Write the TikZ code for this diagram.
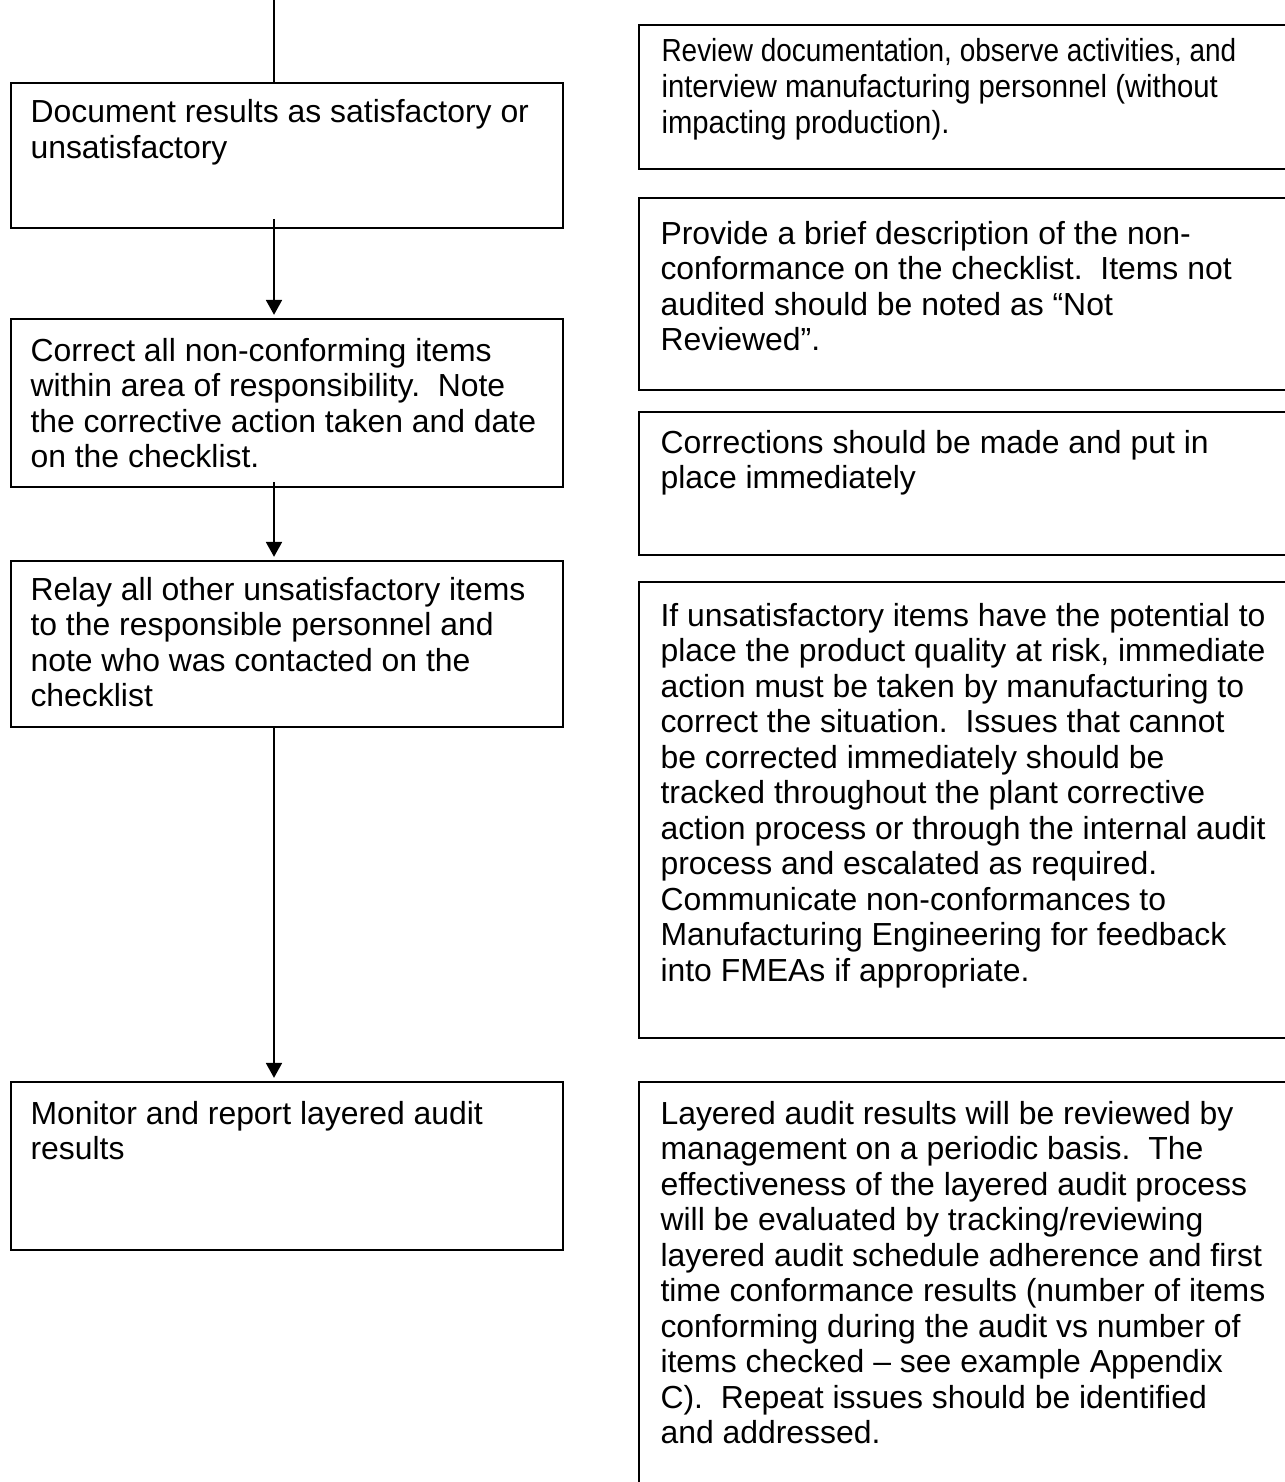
\documentclass[tikz,border=0pt]{standalone}
\usepackage{fontspec}
\usepackage{graphicx}
\setmainfont{Liberation Sans}
\newfontfamily\narrowsans[FakeStretch=0.917]{Liberation Sans}
\usetikzlibrary{arrows.meta}
\newlength\pxu
\setlength\pxu{0.376pt}
\begin{document}
\begin{tikzpicture}[x=\pxu, y=-\pxu,
  box/.style={draw, line width=0.75pt, inner sep=0pt, anchor=north west},
  lbox/.style={box, minimum width=552\pxu},
  rbox/.style={box, minimum width=720\pxu},
  txt/.style={inner sep=0pt, anchor=base west, font=\fontsize{12}{13.35}\selectfont},
  narrowtxt/.style={txt, font=\narrowsans\fontsize{12}{13.35}\selectfont},
  conn/.style={line width=0.75pt},
  arr/.style={conn, -{Triangle[width=6pt,length=5.6pt]}, shorten >=1.2pt}]
\useasboundingbox (0,0) rectangle (1285,1482);
\clip (0,0) rectangle (1285,1482);

% left column boxes
\node[lbox, minimum height=145\pxu] (b1) at (10,82) {};
\node[lbox, minimum height=168\pxu] (b2) at (10,318) {};
\node[lbox, minimum height=166\pxu] (b3) at (10,560) {};
\node[lbox, minimum height=168\pxu] (b4) at (10,1081) {};

% right column boxes
\node[rbox, minimum height=144\pxu] (r1) at (638,24) {};
\node[rbox, minimum height=192\pxu] (r2) at (638,197) {};
\node[rbox, minimum height=143\pxu] (r3) at (638,411) {};
\node[rbox, minimum height=456\pxu] (r4) at (638,581) {};
\node[rbox, minimum height=520\pxu] (r5) at (638,1081) {};

% texts, left
\node[txt] (t1) at (30,123) {\parbox[t]{620\pxu}{\raggedright
Document results as satisfactory or\\unsatisfactory}};
\node[txt] (t2) at (30,361) {\parbox[t]{620\pxu}{\raggedright
Correct all non-conforming items\\within area of responsibility.\ \ Note\\the corrective action taken and date\\on the checklist.}};
\node[txt] (t3) at (30,600) {\parbox[t]{620\pxu}{\raggedright
Relay all other unsatisfactory items\\to the responsible personnel and\\note who was contacted on the\\checklist}};
\node[txt] (t4) at (30,1124) {\parbox[t]{620\pxu}{\raggedright
Monitor and report layered audit\\results}};

% texts, right
\node[narrowtxt] (u1) at (661,62) {\parbox[t]{700\pxu}{\raggedright
\scalebox{0.955}[1]{Review documentation, observe activities, and}\\interview manufacturing personnel (without\\impacting production).}};
\node[txt] (u2) at (660,244) {\parbox[t]{700\pxu}{\raggedright
Provide a brief description of the non-\\conformance on the checklist.\ \ Items not\\audited should be noted as “Not\\Reviewed”.}};
\node[txt] (u3) at (660,453) {\parbox[t]{700\pxu}{\raggedright
Corrections should be made and put in\\place immediately}};
\node[txt] (u4) at (660,626) {\parbox[t]{700\pxu}{\raggedright
If unsatisfactory items have the potential to\\
place the product quality at risk, immediate\\
action must be taken by manufacturing to\\
correct the situation.\ \ Issues that cannot\\
be corrected immediately should be\\
tracked throughout the plant corrective\\
action process or through the internal audit\\
process and escalated as required.\\
Communicate non-conformances to\\
Manufacturing Engineering for feedback\\
into FMEAs if appropriate.}};
\node[txt] (u5) at (660,1124) {\parbox[t]{700\pxu}{\raggedright
Layered audit results will be reviewed by\\
management on a periodic basis.\ \ The\\
effectiveness of the layered audit process\\
will be evaluated by tracking/reviewing\\
layered audit schedule adherence and first\\
time conformance results (number of items\\
conforming during the audit vs number of\\
items checked – see example Appendix\\
C).\ \ Repeat issues should be identified\\
and addressed.}};

% connectors
\coordinate (ax) at (274,0);
\path (ax |- b1.south) coordinate (s1);
\path (ax |- b2.south) coordinate (s2);
\path (ax |- b3.south) coordinate (s3);
\draw[conn] (ax) -- (ax |- b1.north);
\draw[arr] ([yshift=3.76pt]s1) -- (ax |- b2.north);
\draw[arr] ([yshift=2.2pt]s2) -- (ax |- b3.north);
\draw[arr] (s3) -- (ax |- b4.north);
\end{tikzpicture}
\end{document}
